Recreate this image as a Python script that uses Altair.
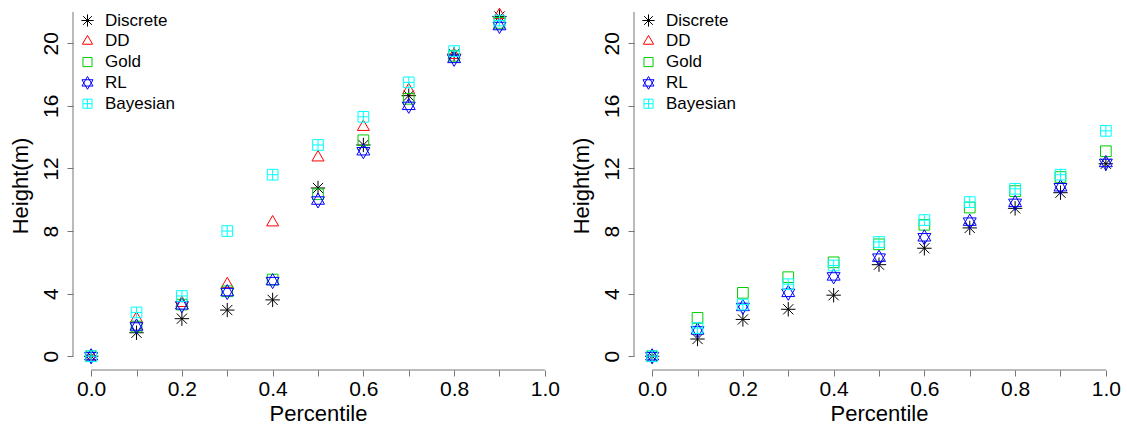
import altair as alt
import pandas as pd

# ---------------- data ----------------
series = ["Discrete", "DD", "Gold", "RL", "Bayesian"]
colors = ["#000000", "#FF0000", "#00CD00", "#0000FF", "#00FFFF"]

pct_left = [0.0, 0.1, 0.2, 0.3, 0.4, 0.5, 0.6, 0.7, 0.8, 0.9]
left_discrete = [0.0, 1.5, 2.4, 2.95, 3.6, 10.75, 13.5, 16.65, 19.3, 21.7]
left_dd = [0.0, 2.4, 3.4, 4.6, 8.55, 12.7, 14.65, 17.0, 19.25, 21.8]
left_gold = [0.0, 1.9, 3.3, 4.15, 4.9, 10.35, 13.8, 16.45, 19.2, 21.3]
left_rl = [0.0, 1.9, 3.25, 4.1, 4.8, 9.95, 13.1, 16.0, 19.0, 21.1]
left_bayes = [0.0, 2.8, 3.85, 8.0, 11.6, 13.5, 15.3, 17.5, 19.5, 21.45]

pct_right = [0.0, 0.1, 0.2, 0.3, 0.4, 0.5, 0.6, 0.7, 0.8, 0.9, 1.0]
right_discrete = [0.0, 1.1, 2.35, 3.0, 3.9, 5.85, 6.9, 8.2, 9.45, 10.45, 12.3]
right_gold = [0.0, 2.45, 4.05, 5.05, 6.0, 7.15, 8.4, 9.5, 10.55, 11.45, 13.1]
right_rl = [0.0, 1.65, 3.15, 4.05, 5.1, 6.3, 7.6, 8.6, 9.8, 10.8, 12.35]
right_bayes = [0.0, 1.8, 3.3, 4.6, 5.8, 7.3, 8.7, 9.85, 10.7, 11.6, 14.4]

x_ticks = [0.0, 0.1, 0.2, 0.3, 0.4, 0.5, 0.6, 0.7, 0.8, 0.9, 1.0]
y_ticks = [0, 2, 4, 6, 8, 10, 12, 14, 16, 18, 20, 22]

# ---------------- styling ----------------
FONT = "Liberation Sans"
AXIS_COLOR = "#777777"
X_DOMAIN = [-0.04, 1.04]
Y_DOMAIN = [-0.88, 22.7]
W, H = 490, 369

shapes = [
    # asterisk (R pch 8)
    "M-1.2,0L1.2,0M0,-1.2L0,1.2M-0.85,-0.85L0.85,0.85M-0.85,0.85L0.85,-0.85",
    # open triangle (pch 2)
    "M0,-1.155L1,0.577L-1,0.577Z",
    # open square (pch 0)
    "M-0.89,-0.89L0.89,-0.89L0.89,0.89L-0.89,0.89Z",
    # star of David (pch 11)
    "M0,-1.25L1.08,0.62L-1.08,0.62ZM0,1.25L1.08,-0.62L-1.08,-0.62Z",
    # square with plus (pch 12)
    "M-0.89,-0.89L0.89,-0.89L0.89,0.89L-0.89,0.89ZM0,-0.89L0,0.89M-0.89,0L0.89,0",
]


def long_frame(pcts, cols):
    rows = []
    for k, (name, vals) in enumerate(cols):
        for p, v in zip(pcts, vals):
            rows.append({"Percentile": p, "Height": v, "Series": name, "ord": k})
    return pd.DataFrame(rows)


df_left = long_frame(pct_left, [("Discrete", left_discrete), ("DD", left_dd),
                                ("Gold", left_gold), ("RL", left_rl),
                                ("Bayesian", left_bayes)])
df_right = long_frame(pct_right, [("Discrete", right_discrete), ("Gold", right_gold),
                                  ("RL", right_rl), ("Bayesian", right_bayes)])


def panel(df):
    xs = alt.Scale(domain=X_DOMAIN, nice=False, zero=False)
    ys = alt.Scale(domain=Y_DOMAIN, nice=False, zero=False)
    x_axis = alt.Axis(values=x_ticks, domain=False, grid=False, tickSize=6,
                      tickColor=AXIS_COLOR, tickWidth=1,
                      labelExpr="round(datum.value*10) % 2 == 0 ? format(datum.value, '.1f') : ''",
                      labelFont=FONT, labelFontSize=21, labelColor="#000000",
                      labelPadding=2, labelFlush=False, labelOverlap=False,
                      title="Percentile", titleFont=FONT, titleFontSize=22,
                      titleFontWeight="normal", titleColor="#000000", titlePadding=4)
    y_axis = alt.Axis(values=y_ticks, domain=False, grid=False, tickSize=6,
                      tickColor=AXIS_COLOR, tickWidth=1,
                      labelExpr="datum.value % 4 == 0 ? datum.label : ''",
                      labelAngle=270, labelAlign="center", labelBaseline="bottom",
                      labelFont=FONT, labelFontSize=21, labelColor="#000000",
                      labelPadding=6, labelFlush=False, labelOverlap=False,
                      title="Height(m)", titleFont=FONT, titleFontSize=22,
                      titleFontWeight="normal", titleColor="#000000", titlePadding=8)
    legend = alt.Legend(orient="none", legendX=6, legendY=11, title=None,
                        labelFont=FONT, labelFontSize=17, labelColor="#000000",
                        symbolSize=104, symbolStrokeWidth=1, symbolFillColor="transparent",
                        labelOffset=9, rowPadding=2.8, padding=0)
    pts = alt.Chart(df).mark_point(filled=False, size=144, strokeWidth=1, opacity=1).encode(
        x=alt.X("Percentile:Q", scale=xs, axis=x_axis),
        y=alt.Y("Height:Q", scale=ys, axis=y_axis),
        color=alt.Color("Series:N", scale=alt.Scale(domain=series, range=colors), legend=legend),
        shape=alt.Shape("Series:N", scale=alt.Scale(domain=series, range=shapes), legend=legend),
        order=alt.Order("ord:Q"),
    )
    xline = alt.Chart(pd.DataFrame({"a": [x_ticks[0]], "b": [x_ticks[-1]], "y": [Y_DOMAIN[0]]})).mark_rule(
        color=AXIS_COLOR, strokeWidth=1).encode(
        x=alt.X("a:Q", scale=xs), x2="b:Q", y=alt.Y("y:Q", scale=ys))
    yline = alt.Chart(pd.DataFrame({"a": [y_ticks[0]], "b": [y_ticks[-1]], "x": [X_DOMAIN[0]]})).mark_rule(
        color=AXIS_COLOR, strokeWidth=1).encode(
        y=alt.Y("a:Q", scale=ys), y2="b:Q", x=alt.X("x:Q", scale=xs))
    return alt.layer(xline, yline, pts).properties(
        width=W, height=H,
        view=alt.ViewBackground(stroke="transparent", strokeWidth=0),
    )


chart = alt.hconcat(panel(df_left), panel(df_right), spacing=71, bounds="flush").resolve_legend(
    color="independent", shape="independent"
).properties(
    padding={"left": 9, "top": 1, "right": 0, "bottom": 0}
).configure_view(stroke="transparent", strokeWidth=0).configure(background="white")

chart.save("out.html", embed_options={"renderer": "svg", "actions": False})
